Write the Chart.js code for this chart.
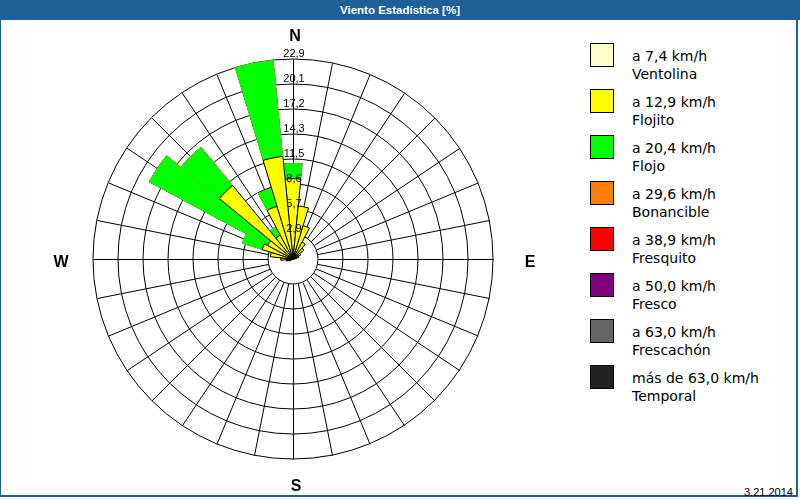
<!DOCTYPE html>
<html>
<head>
<meta charset="utf-8">
<script src="https://cdn.jsdelivr.net/npm/chart.js@4.4.1/dist/chart.umd.min.js"></script>
<style>
  body { margin: 0; background: #fff; }
  #frame { position: relative; width: 800px; height: 500px; overflow: hidden; background: #fff; }
  #title {
    position: absolute; left: 0; top: 0; width: 800px; height: 20px;
    background: #1f5f98; color: #fff; text-align: center;
    font: bold 11.5px "Liberation Sans", sans-serif; line-height: 20px;
  }
  #border { position: absolute; left: 0; top: 20px; width: 795px; height: 475px;
    border-left: 1px solid #1f5f98; border-right: 2px solid #1f5f98; border-bottom: 2px solid #1f5f98; }
  #chartBox { position: absolute; left: 0; top: 20px; width: 570px; height: 477px; }
  #legend { position: absolute; left: 590px; top: 43px; font-family: "DejaVu Sans", sans-serif; }
  .item { position: relative; height: 46px; width: 200px; }
  .sw { position: absolute; left: 0; top: 0; width: 22px; height: 22px; border: 1px solid #000; }
  .lbl { position: absolute; left: 42px; top: 5px; font-size: 14px; line-height: 17.6px; color: #000; white-space: nowrap; }
  #date { position: absolute; left: 744px; top: 486px; font: 11px "Liberation Sans", sans-serif; color: #000; }
</style>
</head>
<body>
<div id="frame">
  <div id="title">Viento Estadística [%]</div>
  <div id="border"></div>
  <div id="chartBox"><canvas id="roseChart" width="570" height="477"></canvas></div>
  <div id="legend"></div>
  <div id="date">3.21.2014</div>
</div>
<script>
// 32 direcciones, empezando en N y girando en sentido horario
const directions = [
  "N", "NbE", "NNE", "NEbN", "NE", "NEbE", "ENE", "EbN",
  "E", "EbS", "ESE", "SEbE", "SE", "SEbS", "SSE", "SbE",
  "S", "SbW", "SSW", "SWbS", "SW", "SWbW", "WSW", "WbS",
  "W", "WbN", "WNW", "NWbW", "NW", "NWbN", "NNW", "NbW"
];

// porcentajes por clase de velocidad
const ventolina = [
  0, 0, 0, 0, 0, 0, 0, 0, 0, 0, 0, 0, 0, 0, 0, 0,
  0, 0, 0, 0, 0, 0, 0, 0, 0, 0, 0, 0, 0, 0, 0, 0
];
const flojito = [
  9.2, 6.1, 4.0, 2.2, 1.6, 1.0, 0.7, 0.4, 0, 0, 0, 0, 0, 0, 0, 0,
  0, 0, 0, 0, 0, 0, 0.5, 0.8, 1.4, 2.6, 3.7, 3.3, 10.9, 3.1, 6.3, 11.8
];
const flojo = [
  1.8, 0, 0, 0, 0, 0, 0, 0, 0, 0, 0, 0, 0, 0, 0, 0,
  0, 0, 0, 0, 0, 0, 0, 0, 0, 0, 2.4, 15.4, 5.7, 1.1, 2.2, 11.1
];
const bonancible = new Array(32).fill(0);
const fresquito = new Array(32).fill(0);
const fresco = new Array(32).fill(0);
const frescachon = new Array(32).fill(0);
const temporal = new Array(32).fill(0);

const classes = [
  { top: "a 7,4 km/h", name: "Ventolina", color: "#ffffcc", data: ventolina },
  { top: "a 12,9 km/h", name: "Flojito", color: "#ffff00", data: flojito },
  { top: "a 20,4 km/h", name: "Flojo", color: "#00ff00", data: flojo },
  { top: "a 29,6 km/h", name: "Bonancible", color: "#ff8000", data: bonancible },
  { top: "a 38,9 km/h", name: "Fresquito", color: "#ff0000", data: fresquito },
  { top: "a 50,0 km/h", name: "Fresco", color: "#800080", data: fresco },
  { top: "a 63,0 km/h", name: "Frescachón", color: "#646464", data: frescachon },
  { top: "más de 63,0 km/h", name: "Temporal", color: "#222222", data: temporal }
];

const rMax = 22.9;
const ringLabels = ["2,9", "5,7", "8,6", "11,5", "14,3", "17,2", "20,1", "22,9"];
const ringValues = ringLabels.map((_, i) => ((i + 1) * rMax) / ringLabels.length);
const compass = [
  { text: "N", dir: 0, dx: 2, dy: -22 },
  { text: "E", dir: 8, dx: 37, dy: 4 },
  { text: "S", dir: 16, dx: 3, dy: 28 },
  { text: "W", dir: 24, dx: -32, dy: 4 }
];

// leyenda
const legendEl = document.getElementById("legend");
classes.forEach((c) => {
  const item = document.createElement("div");
  item.className = "item";
  item.innerHTML =
    '<div class="sw" style="background:' + c.color + '"></div>' +
    '<div class="lbl">' + c.top + "<br>" + c.name + "</div>";
  legendEl.appendChild(item);
});

// apilar: cada clase se dibuja con el acumulado hasta ella
let running = new Array(directions.length).fill(0);
const datasets = classes.map((c, k) => {
  running = running.map((v, i) => v + c.data[i]);
  return {
    label: c.name,
    data: running.slice(),
    backgroundColor: c.color,
    borderColor: "#000",
    borderWidth: k < 2 ? 1 : 0
  };
});

const rosePlugin = {
  id: "rose",
  beforeDatasetsDraw(chart) {
    const s = chart.scales.r;
    const ctx = chart.ctx;
    const r0 = s.getDistanceFromCenterForValue(ringValues[0]);
    const r1 = s.drawingArea;
    ctx.save();
    ctx.strokeStyle = "#000";
    ctx.lineWidth = 1;
    directions.forEach((d, i) => {
      const a = ((i * 360) / directions.length - 90) * Math.PI / 180;
      ctx.beginPath();
      ctx.moveTo(s.xCenter + 0.5 + Math.cos(a) * r0, s.yCenter + 0.5 + Math.sin(a) * r0);
      ctx.lineTo(s.xCenter + 0.5 + Math.cos(a) * r1, s.yCenter + 0.5 + Math.sin(a) * r1);
      ctx.stroke();
    });
    ctx.restore();
  },
  afterDatasetsDraw(chart) {
    const s = chart.scales.r;
    const ctx = chart.ctx;
    ctx.save();
    ctx.fillStyle = "#000";
    ctx.font = '11px "Liberation Sans", sans-serif';
    ctx.textAlign = "center";
    ctx.textBaseline = "alphabetic";
    ringLabels.forEach((t, i) => {
      const y = s.yCenter - s.getDistanceFromCenterForValue(ringValues[i]);
      ctx.fillText(t, s.xCenter + 1, y - 2);
    });
    ctx.font = 'bold 16px "Liberation Sans", sans-serif';
    ctx.textBaseline = "middle";
    compass.forEach((c) => {
      const a = ((c.dir * 360) / directions.length - 90) * Math.PI / 180;
      const r = s.drawingArea;
      ctx.fillText(c.text, s.xCenter + Math.cos(a) * r + c.dx, s.yCenter + Math.sin(a) * r + c.dy);
    });
    ctx.restore();
  }
};

const ctx = document.getElementById("roseChart").getContext("2d");
const roseChart = new Chart(ctx, {
  type: "polarArea",
  data: { labels: directions, datasets: datasets },
  options: {
    responsive: false,
    animation: false,
    layout: { padding: { left: 93, right: 76, top: 39, bottom: 37 } },
    plugins: {
      legend: { display: false },
      tooltip: { enabled: false }
    },
    scales: {
      r: {
        min: 0,
        max: rMax,
        startAngle: -180 / directions.length,
        afterBuildTicks: (scale) => {
          scale.ticks = [0].concat(ringValues).map((v) => ({ value: v }));
        },
        ticks: { display: false },
        grid: { color: "#000", lineWidth: 1, circular: true },
        angleLines: { display: false },
        pointLabels: { display: false }
      }
    }
  },
  plugins: [rosePlugin]
});
</script>
</body>
</html>
